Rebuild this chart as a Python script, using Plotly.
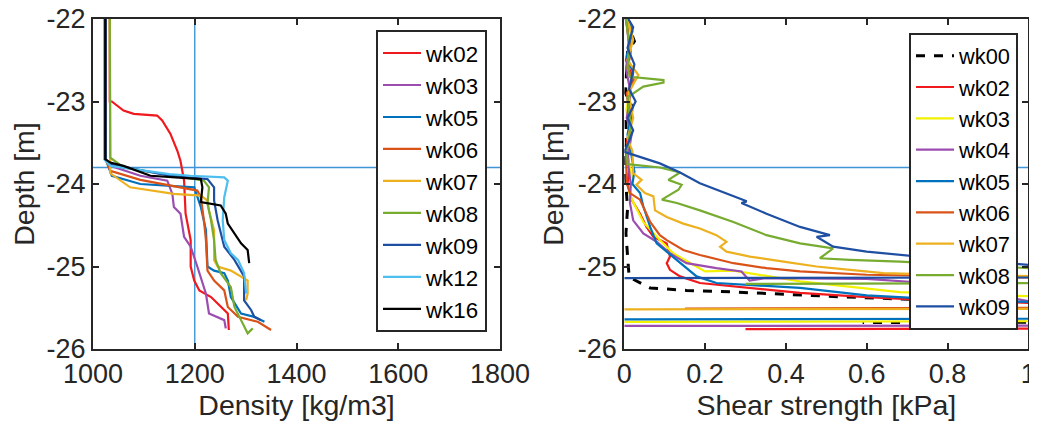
import plotly.graph_objects as go

# ---------------- data: left panel (density) ----------------
dens_names = ["wk02", "wk03", "wk05", "wk06", "wk07", "wk08", "wk09", "wk12", "wk16"]
dens_colors = ["#F0191E", "#9B4DB0", "#0072BD", "#D95319", "#EDB120", "#77AC30", "#1F4FA2", "#4DBEEE", "#000000"]

wk02_rho = [1033, 1033, 1037, 1060, 1080, 1126, 1136, 1152, 1166, 1172, 1179, 1182, 1192, 1192, 1199, 1209, 1232, 1251, 1265, 1267]
wk02_rz = [-22.0, -23.0, -23.0, -23.11, -23.15, -23.17, -23.23, -23.39, -23.6, -23.72, -23.96, -24.36, -24.68, -25.0, -25.17, -25.29, -25.37, -25.49, -25.57, -25.77]
wk03_rho = [1025, 1025, 1034, 1093, 1146, 1156, 1159, 1172, 1179, 1192, 1205, 1222, 1228, 1258, 1261]
wk03_rz = [-22.0, -23.7, -23.78, -23.9, -23.96, -24.12, -24.28, -24.36, -24.64, -24.76, -25.0, -25.33, -25.57, -25.65, -25.75]
wk05_rho = [1025, 1025, 1037, 1093, 1199, 1205, 1212, 1222, 1225, 1225, 1238, 1258, 1265, 1271, 1291, 1317, 1337]
wk05_rz = [-22.0, -23.7, -23.9, -24.0, -24.04, -24.16, -24.28, -24.56, -24.92, -25.0, -25.05, -25.08, -25.17, -25.37, -25.57, -25.61, -25.67]
wk06_rho = [1025, 1025, 1034, 1093, 1205, 1212, 1218, 1222, 1225, 1238, 1258, 1265, 1285, 1324, 1350]
wk06_rz = [-22.0, -23.7, -23.84, -23.95, -24.08, -24.16, -24.44, -24.68, -25.05, -25.17, -25.29, -25.49, -25.61, -25.67, -25.77]
wk07_rho = [1033, 1033, 1034, 1073, 1159, 1212, 1225, 1228, 1238, 1238, 1245, 1271, 1304, 1304, 1301]
wk07_rz = [-22.0, -23.7, -23.87, -24.04, -24.12, -24.14, -24.2, -24.32, -24.56, -24.92, -25.0, -25.05, -25.17, -25.33, -25.41]
wk08_rho = [1033, 1033, 1034, 1060, 1159, 1218, 1228, 1225, 1232, 1238, 1241, 1251, 1271, 1278, 1291, 1304, 1314]
wk08_rz = [-22.0, -23.6, -23.68, -23.8, -23.9, -23.96, -24.04, -24.24, -24.44, -24.68, -24.92, -25.08, -25.25, -25.49, -25.65, -25.81, -25.75]
wk09_rho = [1025, 1025, 1034, 1150, 1225, 1238, 1238, 1245, 1258, 1278, 1297, 1297, 1311, 1317, 1330]
wk09_rz = [-22.0, -23.7, -23.76, -23.9, -23.94, -24.04, -24.2, -24.44, -24.76, -24.92, -25.12, -25.41, -25.53, -25.61, -25.65]
wk12_rho = [1022, 1022, 1034, 1150, 1192, 1258, 1265, 1258, 1255, 1258, 1271, 1285, 1297, 1301]
wk12_rz = [-22.0, -23.7, -23.78, -23.88, -23.9, -23.92, -23.96, -24.16, -24.44, -24.68, -24.84, -24.92, -25.08, -25.33]
wk16_rho = [1024, 1024, 1034, 1060, 1113, 1212, 1215, 1212, 1251, 1261, 1265, 1278, 1291, 1304, 1307]
wk16_rz = [-22.0, -23.7, -23.74, -23.78, -23.9, -23.94, -24.04, -24.22, -24.26, -24.36, -24.48, -24.6, -24.72, -24.8, -24.96]

dens_x = [wk02_rho, wk03_rho, wk05_rho, wk06_rho, wk07_rho, wk08_rho, wk09_rho, wk12_rho, wk16_rho]
dens_z = [wk02_rz, wk03_rz, wk05_rz, wk06_rz, wk07_rz, wk08_rz, wk09_rz, wk12_rz, wk16_rz]

# ---------------- data: right panel (shear strength) ----------------
shear_names = ["wk00", "wk02", "wk03", "wk04", "wk05", "wk06", "wk07", "wk08", "wk09"]
shear_colors = ["#000000", "#F0191E", "#F2F200", "#9B4DB0", "#0072BD", "#D95319", "#EDB120", "#77AC30", "#1F4FA2"]

s00_x = [0.004, 0.025, 0.008, 0.006, 0.003, 0.02, 0.004, 0.005, 0.002, 0.004, 0.008, 0.004, 0.01, 0.012, 0.064, 0.154, 0.228, 0.311, 0.385, 0.468, 0.55, 0.715, 1.2, 3.0, 0.59]
s00_z = [-22.0, -22.27, -22.4, -22.7, -22.9, -23.07, -23.2, -23.5, -23.8, -24.0, -24.3, -24.6, -25.0, -25.13, -25.26, -25.29, -25.30, -25.32, -25.33, -25.35, -25.37, -25.40, -25.47, -25.66, -25.68]
s02_x = [0.008, 0.015, 0.004, 0.022, 0.008, 0.018, 0.006, 0.012, 0.008, 0.018, 0.039, 0.055, 0.072, 0.105, 0.113, 0.105, 0.113, 0.138, 0.187, 0.27, 0.435, 0.6, 0.715, 1.0, 3.0, 3.0, 0.3]
s02_z = [-22.0, -22.3, -22.5, -22.72, -22.9, -23.2, -23.5, -23.8, -24.0, -24.19, -24.36, -24.52, -24.64, -24.72, -24.88, -24.96, -25.04, -25.12, -25.2, -25.24, -25.32, -25.37, -25.40, -25.44, -25.5, -25.73, -25.76]
s03_x = [0.006, 0.015, 0.008, 0.018, 0.005, 0.015, 0.008, 0.022, 0.012, 0.02, 0.047, 0.088, 0.121, 0.171, 0.2, 0.27, 0.435, 0.55, 0.682, 1.0, 3.0, 3.0, 0.0]
s03_z = [-22.0, -22.2, -22.55, -22.8, -23.1, -23.4, -23.7, -23.95, -24.1, -24.2, -24.46, -24.68, -24.84, -24.98, -25.06, -25.05, -25.18, -25.24, -25.31, -25.36, -25.45, -25.65, -25.67]
s04_x = [0.005, 0.012, 0.004, 0.016, 0.006, 0.018, 0.008, 0.016, 0.014, 0.022, 0.047, 0.08, 0.113, 0.154, 0.228, 0.29, 0.31, 0.35, 0.6, 0.75, 1.0, 3.0, 3.0, 0.0]
s04_z = [-22.0, -22.35, -22.6, -22.9, -23.2, -23.4, -23.7, -24.0, -24.23, -24.44, -24.60, -24.70, -24.84, -24.96, -25.02, -25.06, -25.17, -25.14, -25.15, -25.2, -25.42, -25.5, -25.71, -25.72]
s05_x = [0.008, 0.02, 0.006, 0.022, 0.01, 0.02, 0.008, 0.025, 0.02, 0.039, 0.047, 0.064, 0.08, 0.105, 0.13, 0.171, 0.179, 0.228, 0.352, 0.435, 0.6, 0.715, 1.0, 3.0, 3.0, 0.0]
s05_z = [-22.0, -22.15, -22.45, -22.65, -22.95, -23.1, -23.4, -23.85, -24.0, -24.11, -24.27, -24.52, -24.72, -24.82, -24.92, -25.08, -25.12, -25.20, -25.24, -25.26, -25.35, -25.38, -25.43, -25.5, -25.62, -25.64]
s06_x = [0.004, 0.016, 0.008, 0.025, 0.006, 0.016, 0.004, 0.006, 0.014, 0.039, 0.064, 0.088, 0.105, 0.146, 0.187, 0.27, 0.352, 0.435, 0.6, 0.75, 1.0, 3.0, 3.0, 0.15]
s06_z = [-22.0, -22.4, -22.6, -22.75, -22.9, -23.3, -23.6, -23.99, -24.11, -24.19, -24.46, -24.62, -24.68, -24.80, -24.86, -24.96, -25.02, -25.06, -25.1, -25.12, -25.15, -25.3, -25.48, -25.51]
s07_x = [0.008, 0.022, 0.008, 0.035, 0.01, 0.022, 0.008, 0.02, 0.022, 0.043, 0.03, 0.051, 0.072, 0.076, 0.105, 0.146, 0.187, 0.228, 0.253, 0.237, 0.253, 0.311, 0.394, 0.476, 0.559, 0.641, 0.711, 1.0, 3.0, 3.0, 0.0]
s07_z = [-22.0, -22.25, -22.5, -22.68, -22.9, -23.2, -23.45, -23.6, -23.87, -23.95, -24.01, -24.11, -24.15, -24.32, -24.40, -24.48, -24.54, -24.62, -24.70, -24.76, -24.82, -24.88, -24.94, -25.0, -25.04, -25.08, -25.09, -25.12, -25.3, -25.5, -25.52]
s08_x = [0.004, 0.012, 0.008, 0.014, 0.097, 0.097, 0.047, 0.008, 0.016, 0.006, 0.008, 0.088, 0.138, 0.109, 0.142, 0.134, 0.093, 0.13, 0.187, 0.27, 0.352, 0.435, 0.517, 0.484, 0.559, 0.682, 1.0, 3.0, 3.0, 0.3]
s08_z = [-22.0, -22.3, -22.6, -22.70, -22.74, -22.77, -22.82, -22.95, -23.3, -23.6, -23.76, -23.80, -23.86, -23.95, -24.01, -24.07, -24.19, -24.23, -24.32, -24.46, -24.62, -24.72, -24.78, -24.90, -24.92, -24.94, -25.02, -25.1, -25.18, -25.21]
s09_x = [0.01, 0.022, 0.008, 0.025, 0.012, 0.028, 0.008, 0.022, 0.01, 0.0, 0.088, 0.138, 0.187, 0.27, 0.303, 0.29, 0.352, 0.435, 0.509, 0.476, 0.517, 0.6, 0.682, 0.75, 1.0, 3.0, 3.0, 0.0]
s09_z = [-22.0, -22.1, -22.35, -22.55, -22.85, -23.0, -23.2, -23.35, -23.5, -23.61, -23.75, -23.86, -23.99, -24.15, -24.21, -24.23, -24.36, -24.52, -24.62, -24.64, -24.76, -24.82, -24.86, -24.89, -24.98, -25.05, -25.12, -25.14]

shear_x = [s00_x, s02_x, s03_x, s04_x, s05_x, s06_x, s07_x, s08_x, s09_x]
shear_z = [s00_z, s02_z, s03_z, s04_z, s05_z, s06_z, s07_z, s08_z, s09_z]

# reference lines
ref_density = 1200
ref_depth = -23.8

# axes ticks
depth_ticks = [-22, -23, -24, -25, -26]
depth_ticktext = ["-22", "-23", "-24", "-25", "-26"]
dens_ticks = [1000, 1200, 1400, 1600, 1800]
shear_ticks = [0, 0.2, 0.4, 0.6, 0.8, 1]
shear_ticktext = ["0", "0.2", "0.4", "0.6", "0.8", "1"]

# page has an 8px body margin: figure placed at (8, 8)
W, H = 1029, 419
OFF = 8
FONT = "Liberation Sans, Arial, sans-serif"
AX = "#262626"
REF = "#3F95D6"


def px(v):
    return (v - OFF) / W


def py(v):
    return 1 - (v - OFF) / H


fig = go.Figure()

# reference lines (drawn first, under curves)
fig.add_trace(go.Scatter(x=[ref_density, ref_density], y=[-22, -26], mode="lines",
                         line=dict(color=REF, width=1.4), showlegend=False, xaxis="x", yaxis="y"))
fig.add_trace(go.Scatter(x=[1000, 1800], y=[ref_depth, ref_depth], mode="lines",
                         line=dict(color=REF, width=1.4), showlegend=False, xaxis="x", yaxis="y"))
fig.add_trace(go.Scatter(x=[0, 1], y=[ref_depth, ref_depth], mode="lines",
                         line=dict(color=REF, width=1.4), showlegend=False, xaxis="x2", yaxis="y2"))

for name, col, xs, zs in zip(dens_names, dens_colors, dens_x, dens_z):
    fig.add_trace(go.Scatter(x=xs, y=zs, mode="lines", name=name,
                             line=dict(color=col, width=2.2), xaxis="x", yaxis="y", legend="legend"))

for name, col, xs, zs in zip(shear_names, shear_colors, shear_x, shear_z):
    dash = "dash" if name == "wk00" else "solid"
    w = 3 if name == "wk00" else 2.2
    fig.add_trace(go.Scatter(x=xs, y=zs, mode="lines", name=name,
                             line=dict(color=col, width=w, dash=dash), xaxis="x2", yaxis="y2", legend="legend2"))

axis_common = dict(showline=True, linecolor=AX, linewidth=2, mirror="ticks", ticks="inside",
                   ticklen=6, tickwidth=1.5, tickcolor=AX, showgrid=False, zeroline=False,
                   automargin=False, ticklabeloverflow="allow",
                   tickfont=dict(family=FONT, size=27, color=AX),
                   title_font=dict(family=FONT, size=28.5, color=AX))

ydom = [py(349), py(19)]
leg_common = dict(xanchor="right", yanchor="top", bgcolor="white", bordercolor=AX, borderwidth=2,
                  itemwidth=38, tracegroupgap=0)
fig.update_layout(
    width=W, height=H, margin=dict(l=0, r=0, t=0, b=0, autoexpand=False),
    paper_bgcolor="white", plot_bgcolor="white",
    font=dict(family=FONT, color=AX),
    xaxis=dict(domain=[px(93), px(500)], range=[1000, 1800], tickvals=dens_ticks,
               title=dict(text="Density [kg/m3]", standoff=6), anchor="y", **axis_common),
    yaxis=dict(domain=ydom, range=[-26, -22], tickvals=depth_ticks, ticktext=depth_ticktext,
               title=dict(text="Depth [m]", standoff=6), anchor="x", **axis_common),
    xaxis2=dict(domain=[px(624.3), px(1028.3)], range=[0, 1], tickvals=shear_ticks, ticktext=shear_ticktext,
                title=dict(text="Shear strength [kPa]", standoff=6), anchor="y2", **axis_common),
    yaxis2=dict(domain=ydom, range=[-26, -22], tickvals=depth_ticks, ticktext=depth_ticktext,
                title=dict(text="Depth [m]", standoff=6), anchor="x2", **axis_common),
    legend=dict(x=px(487), y=py(30), font=dict(family=FONT, size=22.3, color="#000000"), **leg_common),
    legend2=dict(x=px(1018), y=py(33), font=dict(family=FONT, size=21.8, color="#000000"), **leg_common),
)

fig.write_html("out.html")
